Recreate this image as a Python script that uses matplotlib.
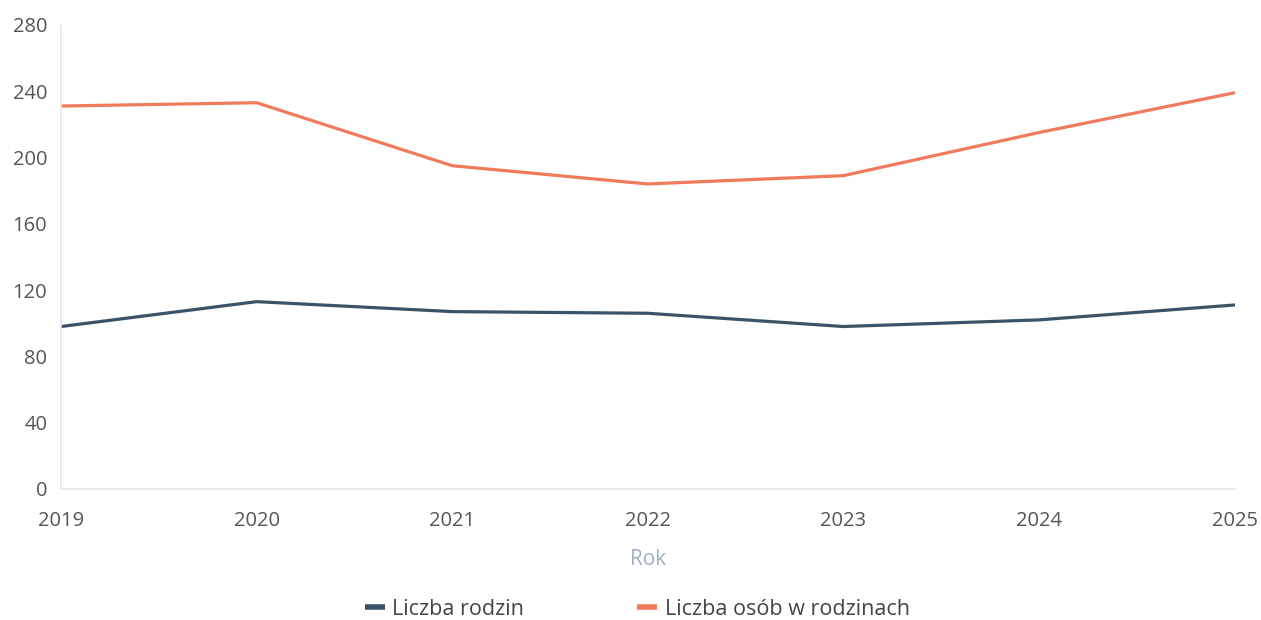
import matplotlib

matplotlib.use("Agg")
import matplotlib.pyplot as plt

plt.rcParams["font.family"] = ["Open Sans", "DejaVu Sans"]

years = [2019, 2020, 2021, 2022, 2023, 2024, 2025]
rodziny = [98, 113, 107, 106, 98, 102, 111]
osoby = [231, 233, 195, 184, 189, 215, 239]
y_ticks = [0, 40, 80, 120, 160, 200, 240, 280]

NAVY = "#3b5368"
SALMON = "#f07a5c"
GRID = "#e6e8ec"

fig = plt.figure(figsize=(12.61, 6.20), dpi=100)
ax = fig.add_axes([0.0484, 0.2113, 0.9306, 0.7487])

ax.plot(years, rodziny, color=NAVY, lw=2.3, label="Liczba rodzin",
        solid_capstyle="round", solid_joinstyle="round")
ax.plot(years, osoby, color=SALMON, lw=2.3, label="Liczba osób w rodzinach",
        solid_capstyle="round", solid_joinstyle="round")

ax.set_xlim(years[0], years[-1])
ax.set_ylim(0, 280)
ax.set_xticks(years)
ax.set_yticks(y_ticks)
ax.tick_params(axis="both", length=0, labelsize=14.5, labelcolor="#555555")
ax.tick_params(axis="y", pad=10)
ax.tick_params(axis="x", pad=16)

for side in ["top", "right"]:
    ax.spines[side].set_visible(False)
for side in ["left", "bottom"]:
    ax.spines[side].set_color(GRID)
    ax.spines[side].set_linewidth(1.2)

ax.set_xlabel("Rok", fontsize=15, color="#9fb0c4", labelpad=13)

leg = fig.legend(loc="center", bbox_to_anchor=(0.5055, 0.017), ncol=2,
                 frameon=False, fontsize=15.5, handlelength=0.93,
                 handletextpad=0.33, columnspacing=5.25)
for line in leg.get_lines():
    line.set_linewidth(4)
    line.set_solid_capstyle("butt")
for text in leg.get_texts():
    text.set_color("#444444")

fig.savefig("out.png", dpi=100)
